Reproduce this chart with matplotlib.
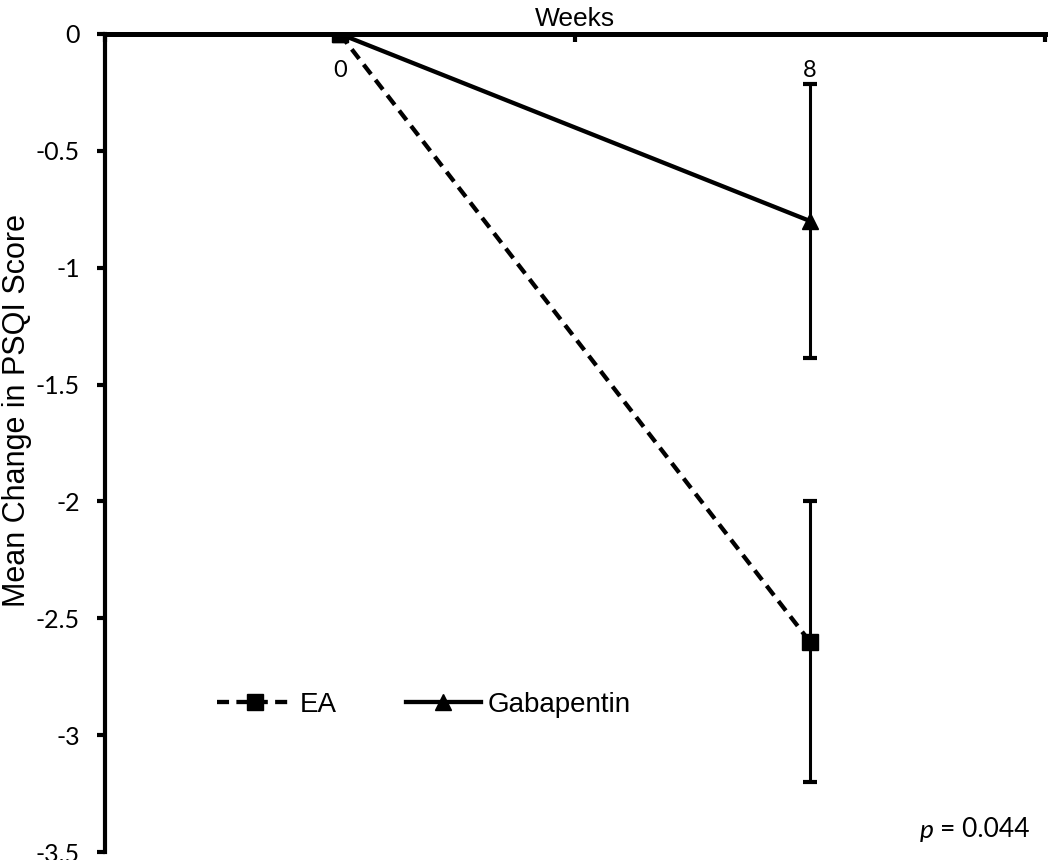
import matplotlib
matplotlib.use("Agg")
import matplotlib.pyplot as plt

# data
weeks = ["0", "8"]
ea_mean = [0.0, -2.6]
ea_err = [0.0, 0.6]
gaba_mean = [0.0, -0.8]
gaba_err = [0.0, 0.585]
y_ticks = [0, -0.5, -1, -1.5, -2, -2.5, -3, -3.5]
y_labels = ["0", "-0.5", "-1", "-1.5", "-2", "-2.5", "-3", "-3.5"]

plt.rcParams['font.family'] = ['Liberation Sans', 'DejaVu Sans']
calibri_like = ['Lato', 'DejaVu Sans']

fig = plt.figure(figsize=(10.5, 8.6), dpi=100)
ax = fig.add_axes([0.1, 0.0093, 0.895, 0.9512])

x = list(range(len(weeks)))

# error bars only at week 8
ax.errorbar(x[1:], ea_mean[1:], yerr=ea_err[1:], fmt='none', ecolor='black',
            elinewidth=2.2, capsize=5, capthick=3, zorder=2)
ax.errorbar(x[1:], gaba_mean[1:], yerr=gaba_err[1:], fmt='none', ecolor='black',
            elinewidth=2.2, capsize=5, capthick=3, zorder=2)

ax.plot(x, ea_mean, color='black', lw=3.1, dashes=(2.8, 1.7), marker='s',
        markersize=11, label='EA', zorder=3)
ax.plot(x, gaba_mean, color='black', lw=3.1, marker='^',
        markersize=11, label='Gabapentin', zorder=3)

ax.set_xlim(-0.5, 1.5)
ax.set_ylim(-3.5, 0)

# spines: x axis on top at y=0, y axis on left
ax.spines['bottom'].set_visible(False)
ax.spines['right'].set_visible(False)
ax.spines['top'].set_linewidth(3.6)
ax.spines['left'].set_linewidth(3.0)
ax.spines['top'].set_zorder(1)

ax.xaxis.set_ticks_position('top')
ax.set_xticks([-0.5, 0.5, 1.5])
ax.set_xticklabels([])
ax.set_xticks(x, minor=True)
ax.set_xticklabels(weeks, minor=True)
ax.tick_params(axis='x', which='major', direction='in', length=6, width=3)
ax.tick_params(axis='x', which='minor', length=0, labelsize=17, pad=-34,
               top=True, labeltop=True, bottom=False, labelbottom=False)
for lbl in ax.get_xticklabels(minor=True):
    lbl.set_fontfamily(calibri_like)

ax.set_yticks(y_ticks)
ax.set_yticklabels(y_labels, fontfamily=calibri_like)
ax.tick_params(axis='y', direction='out', length=6, width=3, labelsize=18, pad=12)

ax.xaxis.set_label_position('top')
ax.set_xlabel('Weeks', fontsize=19, labelpad=2)
ax.set_ylabel('Mean Change in PSQI Score', fontsize=22)
ax.yaxis.set_label_coords(-0.078, 0.54)

ax.legend(loc='center left', bbox_to_anchor=(0.093, 0.18), ncol=2, frameon=False,
          fontsize=20, handlelength=2.7, columnspacing=2.5, handletextpad=0.25)

ptxt = fig.text(0.981, 0.035, '= 0.044', fontsize=19, ha='right', va='center',
                fontfamily=calibri_like)
ax.annotate('p ', xy=(0, 0), xycoords=ptxt, ha='right', va='bottom',
            fontsize=19, style='italic', fontfamily=calibri_like,
            annotation_clip=False)

fig.savefig('out.png', dpi=100)
